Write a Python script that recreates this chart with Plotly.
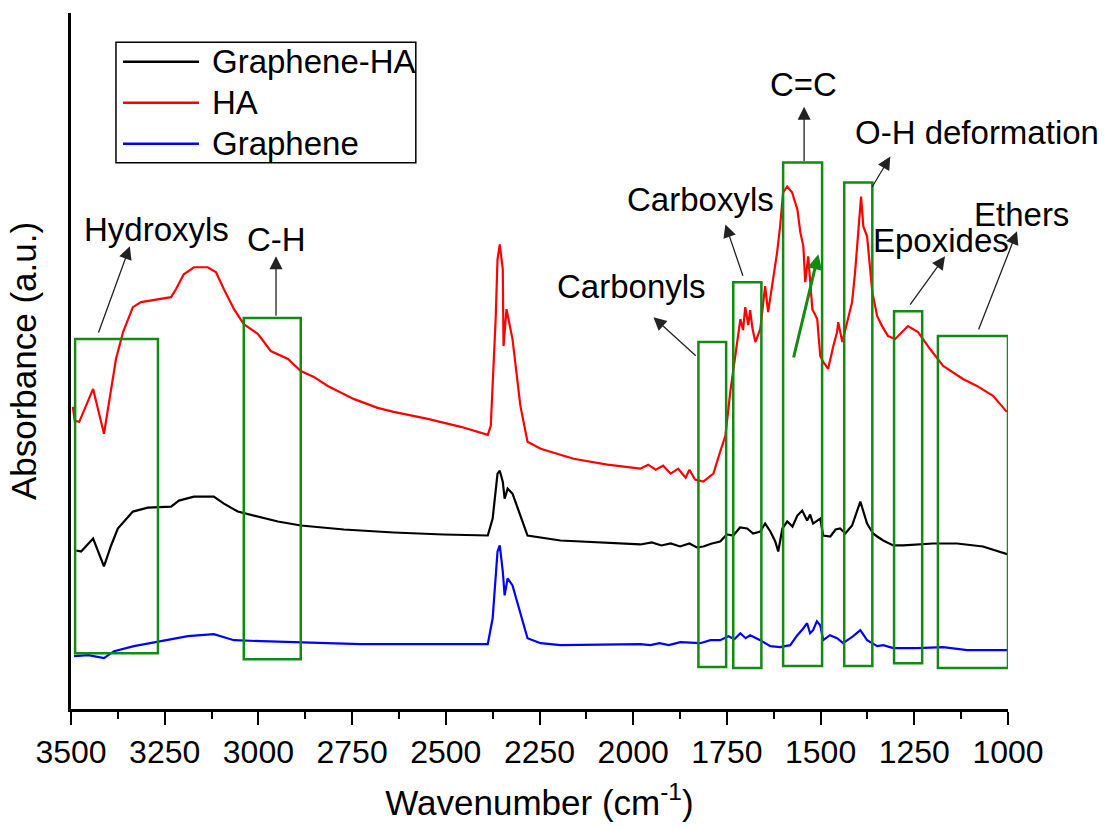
import plotly.graph_objects as go

# FTIR spectra (wavenumber in cm-1, absorbance in arbitrary units, curves offset)
ha_wn = [3495, 3490, 3478, 3441, 3412, 3393, 3380, 3361, 3335, 3313, 3268, 3233, 3220,
         3199, 3172, 3135, 3113, 3092, 3065, 3039, 3001, 2967, 2921, 2887, 2852, 2815,
         2746, 2682, 2639, 2548, 2460, 2388, 2380, 2367, 2362, 2356, 2348, 2346, 2338,
         2333, 2322, 2301, 2282, 2247, 2159, 2069, 1981, 1960, 1940, 1920, 1900, 1880,
         1860, 1850, 1835, 1813, 1786, 1768, 1754, 1741, 1728, 1714, 1707, 1701, 1693,
         1688, 1682, 1674, 1661, 1648, 1640, 1629, 1616, 1608, 1600, 1589, 1576, 1562,
         1554, 1546, 1541, 1533, 1522, 1509, 1501, 1493, 1480, 1466, 1456, 1453, 1442,
         1429, 1416, 1408, 1400, 1392, 1386, 1376, 1362, 1349, 1336, 1320, 1301, 1267,
         1240, 1208, 1173, 1120, 1083, 1040, 1003]
ha_abs = [3.03, 2.89, 2.88, 3.21, 2.76, 3.21, 3.51, 3.78, 4.03, 4.08, 4.11, 4.13, 4.21,
          4.36, 4.43, 4.43, 4.38, 4.21, 4.01, 3.86, 3.76, 3.59, 3.51, 3.39, 3.33, 3.24,
          3.11, 3.02, 2.98, 2.91, 2.83, 2.75, 2.84, 3.91, 4.51, 4.66, 4.41, 3.64, 4.01,
          3.91, 3.71, 3.04, 2.68, 2.61, 2.51, 2.45, 2.41, 2.45, 2.40, 2.44, 2.36, 2.41,
          2.32, 2.40, 2.30, 2.28, 2.36, 2.58, 2.74, 3.18, 3.51, 3.91, 3.80, 4.03, 3.85,
          4.00, 3.82, 3.68, 3.81, 4.24, 3.98, 4.24, 4.58, 4.84, 5.18, 5.24, 5.18, 5.01,
          4.78, 4.64, 4.28, 4.54, 4.01, 3.91, 3.54, 3.48, 3.41, 3.64, 3.78, 3.88, 3.68,
          3.88, 4.08, 4.38, 4.78, 5.14, 4.84, 4.74, 4.18, 3.94, 3.84, 3.74, 3.71, 3.84,
          3.78, 3.61, 3.44, 3.31, 3.24, 3.14, 2.98]

gha_wn = [3486, 3473, 3441, 3412, 3393, 3375, 3335, 3295, 3233, 3212, 3172, 3119, 3092,
          3055, 3012, 2948, 2887, 2772, 2639, 2506, 2388, 2375, 2362, 2356, 2348, 2343,
          2335, 2322, 2282, 2194, 1981, 1950, 1925, 1900, 1875, 1850, 1830, 1813, 1790,
          1768, 1750, 1733, 1715, 1696, 1680, 1661, 1648, 1634, 1621, 1613, 1602, 1589,
          1575, 1562, 1549, 1536, 1528, 1520, 1501, 1493, 1474, 1460, 1448, 1434, 1416,
          1394, 1376, 1360, 1349, 1333, 1306, 1280, 1200, 1136, 1067, 1000]
gha_abs = [1.59, 1.58, 1.71, 1.43, 1.64, 1.81, 1.98, 2.02, 2.03, 2.09, 2.13, 2.13, 2.06,
           1.98, 1.94, 1.88, 1.84, 1.80, 1.77, 1.75, 1.74, 1.91, 2.36, 2.39, 2.28, 2.11,
           2.21, 2.16, 1.74, 1.69, 1.65, 1.67, 1.64, 1.66, 1.63, 1.66, 1.62, 1.63, 1.66,
           1.68, 1.75, 1.74, 1.82, 1.81, 1.76, 1.78, 1.86, 1.78, 1.68, 1.58, 1.81, 1.88,
           1.83, 1.94, 1.99, 1.89, 1.95, 1.86, 1.91, 1.74, 1.73, 1.80, 1.81, 1.76, 1.84,
           2.08, 1.86, 1.76, 1.73, 1.69, 1.64, 1.64, 1.66, 1.66, 1.63, 1.55]

gr_wn = [3492, 3454, 3412, 3385, 3332, 3260, 3188, 3119, 3065, 2993, 2905, 2727, 2548,
         2388, 2375, 2362, 2356, 2348, 2343, 2335, 2322, 2282, 2247, 2194, 1981, 1954,
         1930, 1905, 1874, 1839, 1821, 1794, 1776, 1768, 1746, 1730, 1714, 1700, 1688,
         1661, 1634, 1608, 1581, 1570, 1562, 1548, 1536, 1528, 1520, 1510, 1501, 1493,
         1475, 1456, 1440, 1413, 1394, 1376, 1349, 1333, 1306, 1243, 1173, 1109, 1000]
gr_abs = [0.53, 0.54, 0.51, 0.58, 0.63, 0.68, 0.73, 0.75, 0.69, 0.68, 0.67, 0.65, 0.65,
          0.65, 0.91, 1.58, 1.64, 1.38, 1.14, 1.31, 1.24, 0.71, 0.66, 0.64, 0.65, 0.64,
          0.66, 0.64, 0.67, 0.66, 0.66, 0.69, 0.69, 0.69, 0.73, 0.70, 0.76, 0.71, 0.74,
          0.69, 0.63, 0.62, 0.64, 0.70, 0.74, 0.80, 0.86, 0.76, 0.79, 0.88, 0.84, 0.69,
          0.74, 0.71, 0.66, 0.73, 0.79, 0.69, 0.63, 0.64, 0.61, 0.61, 0.62, 0.59, 0.59]

series_names = ["Graphene-HA", "HA", "Graphene"]
series_colors = ["#000000", "#ff0000", "#0000ff"]
series_x = [gha_wn, ha_wn, gr_wn]
series_y = [gha_abs, ha_abs, gr_abs]

# Functional-group regions: label, wavenumber span, absorbance span
groups = ["Hydroxyls", "C-H", "Carbonyls", "Carboxyls", "C=C",
          "O-H deformation", "Epoxides", "Ethers"]
group_wn_hi = [3489, 3039, 1826, 1733, 1600, 1437, 1304, 1187]
group_wn_lo = [3268, 2887, 1752, 1658, 1496, 1362, 1229, 1000]
group_abs_lo = [0.56, 0.50, 0.42, 0.41, 0.43, 0.43, 0.46, 0.41]
group_abs_hi = [3.71, 3.92, 3.68, 4.28, 5.48, 5.28, 3.99, 3.74]

# Label anchor points and pointer arrows (tail -> head)
label_wn = [3273, 2951, 2005, 1821, 1546, 1083, 1179, 965]
label_abs = [4.81, 4.71, 4.24, 5.11, 6.26, 5.78, 4.70, 4.96]
arrow_tail_wn = [3428, 2953, 1829, 1706, 1544, 1365, 1264, 1080]
arrow_tail_abs = [3.76, 3.93, 3.53, 4.33, 5.48, 5.22, 4.04, 3.79]
arrow_head_wn = [3343, 2953, 1946, 1754, 1544, 1314, 1168, 976]
arrow_head_abs = [4.64, 4.54, 3.93, 4.86, 6.04, 5.54, 4.54, 4.79]

WN_RANGE = [3500, 1000]
FONT = "Liberation Sans, Arial, sans-serif"
GREEN = "#138a13"


def wn_to_paper(wn):
    # labels may sit past the axis end, so place them in paper units
    return (WN_RANGE[0] - wn) / (WN_RANGE[0] - WN_RANGE[1])


fig = go.Figure()
for name, color, xs, ys in zip(series_names, series_colors, series_x, series_y):
    fig.add_trace(go.Scatter(x=xs, y=ys, mode="lines", name=name,
                             line=dict(color=color, width=2.2), showlegend=False))

shapes = []
for x0, x1, y0, y1 in zip(group_wn_hi, group_wn_lo, group_abs_lo, group_abs_hi):
    shapes.append(dict(type="rect", xref="x", yref="y", x0=x0, x1=x1, y0=y0, y1=y1,
                       line=dict(color=GREEN, width=2.5), fillcolor="rgba(0,0,0,0)"))

annotations = []
for text, lx, ly in zip(groups, label_wn, label_abs):
    annotations.append(dict(x=wn_to_paper(lx), y=ly, xref="paper", yref="y", text=text,
                            xanchor="center", yanchor="middle", showarrow=False,
                            font=dict(family=FONT, size=33, color="#000000")))
for tx, ty, hx, hy in zip(arrow_tail_wn, arrow_tail_abs, arrow_head_wn, arrow_head_abs):
    annotations.append(dict(x=hx, y=hy, ax=tx, ay=ty, xref="x", yref="y",
                            axref="x", ayref="y", text="", showarrow=True,
                            arrowhead=2, arrowsize=2.0, arrowwidth=1.3,
                            arrowcolor="#222222", standoff=0))

# green pointer inside the C=C region
annotations.append(dict(x=1506, y=4.56, ax=1573, ay=3.51, xref="x", yref="y",
                        axref="x", ayref="y", text="", showarrow=True,
                        arrowhead=2, arrowsize=1.0, arrowwidth=3,
                        arrowcolor=GREEN, standoff=0))

# legend box drawn in paper coordinates
shapes.append(dict(type="rect", xref="paper", yref="paper", x0=0.048, x1=0.368,
                   y0=0.785, y1=0.958, line=dict(color="#000000", width=1.5),
                   fillcolor="white"))
legend_rows = [0.930, 0.871, 0.812]
for name, color, ry in zip(series_names, series_colors, legend_rows):
    shapes.append(dict(type="line", xref="paper", yref="paper", x0=0.0555, x1=0.1366,
                       y0=ry, y1=ry, line=dict(color=color, width=2.5)))
    annotations.append(dict(x=0.1483, y=ry, xref="paper", yref="paper", text=name,
                            xanchor="left", yanchor="middle", showarrow=False,
                            font=dict(family=FONT, size=33, color="#000000")))

fig.update_layout(
    width=1104, height=829,
    margin=dict(l=71, r=96, t=13, b=118),
    paper_bgcolor="white", plot_bgcolor="white",
    font=dict(family=FONT, size=32, color="#000000"),
    shapes=shapes, annotations=annotations,
    xaxis=dict(range=WN_RANGE, tick0=1000, dtick=250, ticks="outside",
               ticklen=13, tickwidth=2, tickcolor="#000000",
               minor=dict(ticks="outside", ticklen=7, tickwidth=2, dtick=125,
                          tickcolor="#000000"),
               showline=True, linecolor="#000000", linewidth=2.5,
               showgrid=False, zeroline=False,
               tickfont=dict(family=FONT, size=32),
               title=dict(text="Wavenumber (cm<sup>-1</sup>)", standoff=22,
                          font=dict(family=FONT, size=35))),
    yaxis=dict(range=[0, 6.98], showticklabels=False, ticks="",
               showline=True, linecolor="#000000", linewidth=2.5,
               showgrid=False, zeroline=False,
               title=dict(text="Absorbance (a.u.)", standoff=22,
                          font=dict(family=FONT, size=35))),
)

fig.write_html("out.html")
